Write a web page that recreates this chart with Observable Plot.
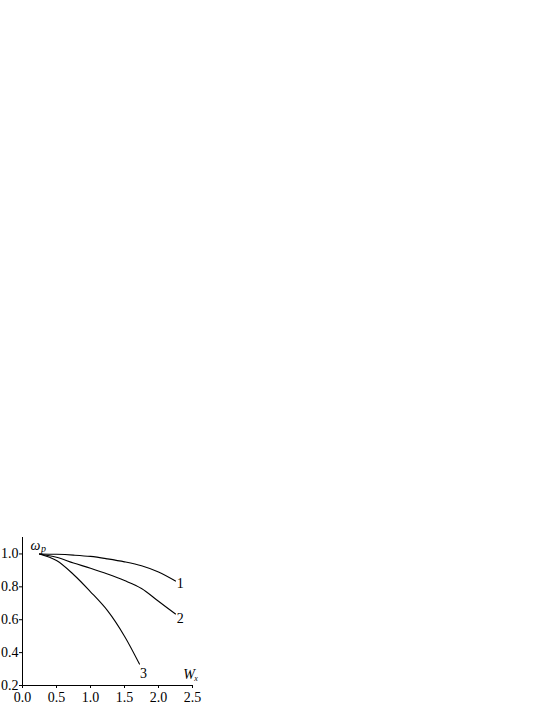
<!DOCTYPE html>
<html>
<head>
<meta charset="utf-8">
<script src="https://cdn.jsdelivr.net/npm/d3@7"></script>
<script src="https://cdn.jsdelivr.net/npm/@observablehq/plot@0.6"></script>
<style>
  html, body { margin: 0; padding: 0; background: #fff; }
  #chart svg { display: block; }
</style>
</head>
<body>
<div id="chart"></div>
<script>
const xTicks = [0, 0.5, 1.0, 1.5, 2.0, 2.5];
const yTicks = [0.2, 0.4, 0.6, 0.8, 1.0];

const curve1X = [0.25, 0.5, 0.75, 1.0, 1.25, 1.5, 1.75, 2.0, 2.25];
const curve1Y = [1.0, 0.998, 0.993, 0.985, 0.970, 0.952, 0.928, 0.890, 0.835];

const curve2X = [0.25, 0.5, 0.75, 1.0, 1.25, 1.5, 1.75, 2.0, 2.25];
const curve2Y = [1.0, 0.980, 0.945, 0.913, 0.878, 0.838, 0.790, 0.712, 0.635];

const curve3X = [0.25, 0.5, 0.75, 1.0, 1.25, 1.5, 1.72];
const curve3Y = [1.0, 0.960, 0.875, 0.770, 0.655, 0.500, 0.330];

const curveLabels = ["1", "2", "3"];
const labelX = [2.32, 2.32, 1.78];
const labelY = [0.82, 0.607, 0.275];

const toRows = (xs, ys, id) => xs.map((x, i) => ({x, y: ys[i], id}));
const lines = [
  ...toRows(curve1X, curve1Y, "1"),
  ...toRows(curve2X, curve2Y, "2"),
  ...toRows(curve3X, curve3Y, "3")
];
const labels = curveLabels.map((t, i) => ({t, x: labelX[i], y: labelY[i]}));

const font = "'Liberation Serif', 'Times New Roman', serif";

const chart = Plot.plot({
  width: 548,
  height: 709,
  marginLeft: 22,
  marginRight: 356,
  marginTop: 537,
  marginBottom: 24,
  style: {fontFamily: font, fontSize: "14px", color: "#000", background: "#fff"},
  x: {domain: [0, 2.5]},
  y: {domain: [0.2, 1.1]},
  marks: [
    Plot.ruleX([0], {y1: 0.2, y2: 1.1, stroke: "#000", strokeWidth: 1}),
    Plot.ruleY([0.2], {x1: 0, x2: 2.5, stroke: "#000", strokeWidth: 1}),
    Plot.axisY({ticks: yTicks, tickFormat: d3.format(".1f"), tickSize: 3, tickPadding: 1, label: null, fontSize: 14, fontFamily: font}),
    Plot.axisX({ticks: xTicks, tickFormat: d3.format(".1f"), tickSize: 3, tickPadding: 4, label: null, fontSize: 14, fontFamily: font}),
    Plot.line(lines, {x: "x", y: "y", z: "id", curve: "catmull-rom", stroke: "#000", strokeWidth: 1.1}),
    Plot.text(labels, {x: "x", y: "y", text: "t", fontSize: 14, fontFamily: font, fill: "#000"}),
    Plot.text(["ω"], {x: 0.19, y: 1.05, fontSize: 14, fontFamily: font, fontStyle: "italic", fill: "#000"}),
    Plot.text(["p"], {x: 0.19, y: 1.05, dx: 8, dy: 3, fontSize: 10, fontFamily: font, fontStyle: "italic", fill: "#000"}),
    Plot.text(["W"], {x: 2.45, y: 0.265, fontSize: 14, fontFamily: font, fontStyle: "italic", fill: "#000"}),
    Plot.text(["x"], {x: 2.45, y: 0.265, dx: 7, dy: 4, fontSize: 8, fontFamily: font, fontStyle: "italic", fill: "#000"})
  ]
});
document.getElementById("chart").appendChild(chart);
</script>
</body>
</html>
